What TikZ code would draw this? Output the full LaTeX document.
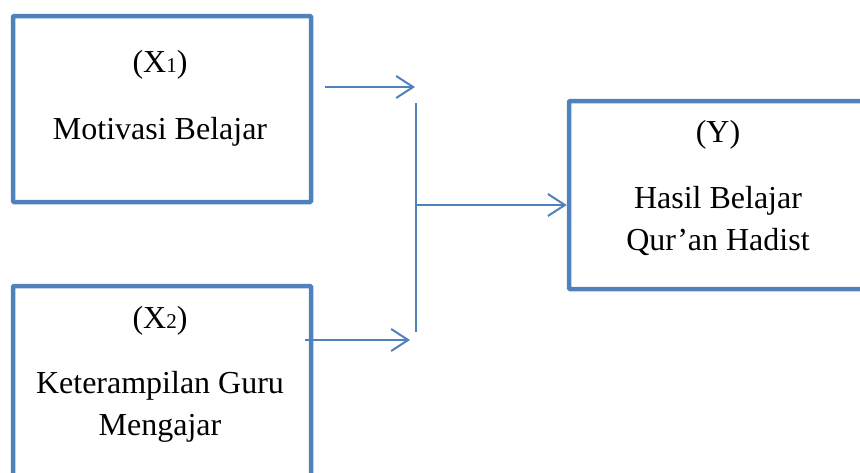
\documentclass[tikz,border=0pt]{standalone}
\usepackage{fontspec}
\setmainfont{Liberation Serif}
\usetikzlibrary{arrows.meta}
\definecolor{boxblue}{HTML}{4F81BD}
\tikzset{
  varbox/.style={draw=boxblue,line width=4.5pt,rounded corners=1pt,minimum width=298pt,inner sep=0pt},
  lbl/.style={anchor=base,inner sep=0pt,font=\fontsize{32}{38}\selectfont},
  conn/.style={draw=boxblue,line width=2pt},
  arr/.style={conn,-{Straight Barb[length=17pt,width=22pt,line width=2pt]}}
}
\newcommand{\smalldigit}[1]{{\fontsize{21}{21}\selectfont #1}}
\begin{document}
\begin{tikzpicture}[x=1pt,y=-1pt]
\useasboundingbox (0,0) rectangle (860,472);
\clip (0,0) rectangle (860,472);
% boxes
\node[varbox,minimum height=186pt] (x1) at (162,109) {};
\node[varbox,minimum height=192pt] (x2) at (162,382) {};
\node[varbox,minimum height=188pt] (y) at (718,195) {};
% labels
\node[lbl] (x1a) at (160,72) {(X\smalldigit{1})};
\node[lbl] (x1b) at (160,139) {Motivasi Belajar};
\node[lbl] (x2a) at (160,328) {(X\smalldigit{2})};
\node[lbl] (x2b) at (160,393) {Keterampilan Guru};
\node[lbl] (x2c) at (160,435) {Mengajar};
\node[lbl] (ya) at (718,142) {(Y)};
\node[lbl] (yb) at (718,208) {Hasil Belajar};
\node[lbl] (yc) at (718,250) {Qur’an Hadist};
% connectors
\coordinate (t1) at (325,87);
\coordinate (t2) at (415,87);
\coordinate (vtop) at (416,103);
\coordinate (vbot) at (416,332);
\coordinate (vmid) at (416,205);
\coordinate (b1) at (305,340);
\coordinate (b2) at (410,340);
\draw[arr] (t1) -- (t2);
\draw[conn] (vtop) -- (vbot);
\draw[arr] (vmid) -- (y.west |- vmid);
\draw[arr] (b1) -- (b2);
\end{tikzpicture}
\end{document}
